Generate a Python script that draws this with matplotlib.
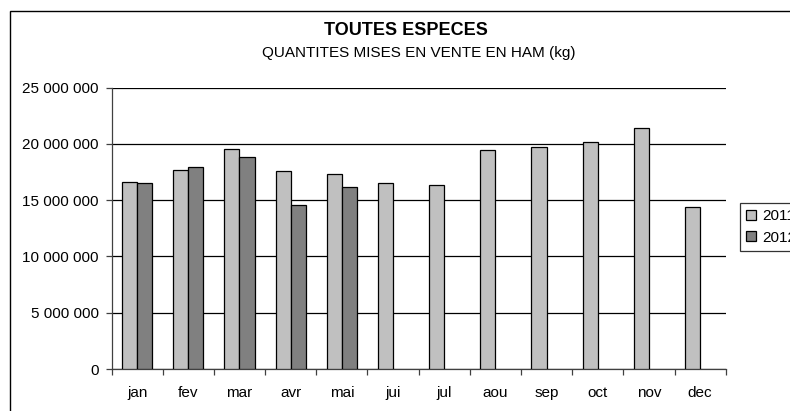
import matplotlib
matplotlib.use("Agg")
import matplotlib.pyplot as plt
from matplotlib.patches import Rectangle
from matplotlib.ticker import FuncFormatter, MultipleLocator, FixedLocator
import numpy as np

plt.rcParams['font.family'] = ['Liberation Sans', 'DejaVu Sans']

months = ["jan", "fev", "mar", "avr", "mai", "jui", "jul", "aou", "sep", "oct", "nov", "dec"]
q2011 = [16.59e6, 17.71e6, 19.55e6, 17.62e6, 17.33e6, 16.50e6, 16.38e6, 19.44e6, 19.76e6, 20.17e6, 21.42e6, 14.40e6]
q2012 = [16.50e6, 17.95e6, 18.81e6, 14.57e6, 16.15e6]
series_names = ["2011", "2012"]
title = "TOUTES ESPECES"
subtitle = "QUANTITES MISES EN VENTE EN HAM (kg)"

W, H = 790, 411
fig = plt.figure(figsize=(W / 100, H / 100), dpi=100)

# outer chart border (extends beyond the image on right/bottom)
fig.patches.append(Rectangle((10 / W, -0.1), 1.2, (H - 11) / H + 0.1, transform=fig.transFigure,
                             fill=False, edgecolor='black', linewidth=1.0))

left, right, top, bottom = 111.5, 725.7, 87.7, 369.0
ax = fig.add_axes([left / W, (H - bottom) / H, (right - left) / W, (bottom - top) / H])

x = np.arange(len(months)) + 0.5
bw = 0.295
ax.bar(x[:len(q2011)] - bw / 2, q2011, width=bw, color='#C0C0C0', edgecolor='black', linewidth=0.9,
       label=series_names[0], zorder=3)
ax.bar(x[:len(q2012)] + bw / 2, q2012, width=bw, color='#808080', edgecolor='black', linewidth=0.9,
       label=series_names[1], zorder=3)

ax.set_xlim(0, 12)
ax.set_ylim(0, 25e6)
ax.yaxis.set_major_locator(MultipleLocator(5e6))
ax.yaxis.set_major_formatter(FuncFormatter(lambda v, p: f"{int(v):,}".replace(",", " ")))
ax.grid(axis='y', color='black', linewidth=0.9, zorder=0)
ax.set_axisbelow(True)
glines = ax.get_ygridlines()
if glines:
    glines[-1].set_color('#808080')

ax.xaxis.set_major_locator(FixedLocator(x))
ax.set_xticklabels(months)
ax.xaxis.set_minor_locator(FixedLocator(np.arange(0, 13)))
ax.tick_params(axis='x', which='major', length=0, pad=12, labelsize=11)
ax.tick_params(axis='x', which='minor', length=4, width=0.9, color='#404040', direction='out')
ax.tick_params(axis='y', length=4, width=0.9, color='#404040', pad=5, labelsize=11)

for s in ['top', 'right']:
    ax.spines[s].set_visible(False)
ax.spines['left'].set_color('#404040')
ax.spines['bottom'].set_color('#404040')
ax.spines['left'].set_linewidth(0.9)
ax.spines['bottom'].set_linewidth(0.9)

fig.text(406 / W, 1 - 30.7 / H, title, ha='center', va='center', fontsize=13, fontweight='bold')
fig.text(418.5 / W, 1 - 52.7 / H, subtitle, ha='center', va='center', fontsize=11)

leg = fig.legend(loc='upper left', bbox_to_anchor=(740 / W, 1 - 203 / H), bbox_transform=fig.transFigure,
                 fontsize=11, frameon=True, fancybox=False, handlelength=0.65, handleheight=0.65,
                 handletextpad=0.4, borderpad=0.4, labelspacing=0.5, borderaxespad=0)
leg.get_frame().set_edgecolor('black')
leg.get_frame().set_linewidth(0.9)

fig.savefig("out.png", dpi=100)
